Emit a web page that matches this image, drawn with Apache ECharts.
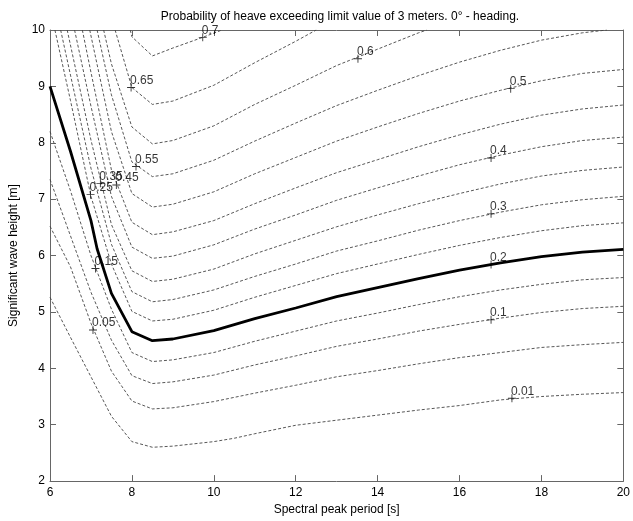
<!DOCTYPE html>
<html>
<head>
<meta charset="utf-8">
<script src="https://cdn.jsdelivr.net/npm/echarts@6/dist/echarts.min.js"></script>
<style>
  html, body { margin: 0; background: #fff; }
  #chart { width: 633px; height: 521px; }
</style>
</head>
<body>
<div id="chart"></div>
<script>
// contour lines, [Tp, Hs] pairs
const c001 = [[6,5.26],[6.5,4.55],[7,3.85],[7.5,3.15],[8,2.70],[8.5,2.60],[9,2.62],[10,2.70],[10.5,2.76],[11,2.84],[12,2.99],[13,3.08],[14,3.17],[15,3.26],[16,3.34],[17,3.44],[18,3.50],[19,3.54],[20,3.57]];
const c005 = [[6,6.52],[6.5,5.80],[7,4.80],[7.5,3.95],[8,3.42],[8.5,3.28],[9,3.30],[10,3.41],[11,3.56],[12,3.70],[13,3.85],[14,3.96],[15,4.08],[16,4.19],[17,4.28],[18,4.37],[19,4.42],[20,4.46]];
const c010 = [[6,7.35],[6.5,6.35],[7,5.35],[7.5,4.50],[8,3.87],[8.5,3.73],[9,3.76],[10,3.88],[11,4.06],[12,4.22],[13,4.39],[14,4.52],[15,4.66],[16,4.78],[17,4.89],[18,4.99],[19,5.06],[20,5.10]];
const c015 = [[6,8.2],[6.5,7.15],[7,6.0],[7.5,5.05],[8,4.28],[8.5,4.12],[9,4.15],[10,4.28],[11,4.48],[12,4.66],[13,4.84],[14,4.98],[15,5.13],[16,5.27],[17,5.39],[18,5.49],[19,5.57],[20,5.61]];
const c020 = [[6,9.0],[6.5,7.85],[7,6.62],[7.15,6.12],[7.5,5.33],[8,4.65],[8.5,4.49],[9,4.52],[10,4.67],[11,4.88],[12,5.07],[13,5.27],[14,5.43],[15,5.59],[16,5.74],[17,5.87],[18,5.98],[19,6.06],[20,6.11]];
const c025 = [[6.12,10],[6.5,8.75],[7,7.05],[7.5,5.85],[8,5.01],[8.5,4.84],[9,4.87],[10,5.03],[11,5.26],[12,5.47],[13,5.68],[14,5.85],[15,6.02],[16,6.18],[17,6.32],[18,6.44],[19,6.53],[20,6.58]];
const c030 = [[6.26,10],[6.5,9.2],[7,7.55],[7.5,6.2],[8,5.36],[8.5,5.18],[9,5.22],[10,5.39],[11,5.63],[12,5.85],[13,6.08],[14,6.26],[15,6.45],[16,6.62],[17,6.77],[18,6.90],[19,6.99],[20,7.05]];
const c035 = [[6.42,10],[7,8.05],[7.5,6.55],[8,5.73],[8.5,5.54],[9,5.58],[10,5.76],[11,6.03],[12,6.27],[13,6.51],[14,6.72],[15,6.92],[16,7.10],[17,7.27],[18,7.41],[19,7.51],[20,7.57]];
const c040 = [[6.60,10],[7,8.65],[7.5,7.05],[8,6.15],[8.5,5.95],[9,5.99],[10,6.19],[11,6.47],[12,6.72],[13,6.98],[14,7.20],[15,7.41],[16,7.61],[17,7.78],[18,7.93],[19,8.04],[20,8.10]];
const c045 = [[6.79,10],[7,9.25],[7.5,7.52],[8,6.59],[8.5,6.37],[9,6.42],[10,6.62],[11,6.92],[12,7.20],[13,7.47],[14,7.70],[15,7.93],[16,8.14],[17,8.33],[18,8.49],[19,8.60],[20,8.67]];
const c050 = [[6.97,10],[7.5,8.2],[8,7.10],[8.5,6.86],[9,6.91],[10,7.13],[11,7.45],[12,7.74],[13,8.03],[14,8.28],[15,8.52],[16,8.74],[17,8.93],[18,9.10],[19,9.23],[20,9.30]];
const c055 = [[7.15,10],[7.5,8.85],[8,7.66],[8.5,7.40],[9,7.45],[10,7.69],[11,8.03],[12,8.35],[13,8.66],[14,8.93],[15,9.19],[16,9.43],[17,9.64],[18,9.82],[19,9.95],[19.6,10]];
const c060 = [[7.31,10],[7.5,9.40],[8,8.28],[8.5,7.98],[9,8.04],[10,8.30],[11,8.68],[12,9.02],[13,9.37],[14,9.66],[15,9.95],[15.2,10]];
const c065 = [[7.59,10],[8,8.98],[8.5,8.68],[9,8.74],[10,9.02],[11,9.42],[12,9.80],[12.5,10]];
const c070 = [[7.96,10],[8,9.88],[8.5,9.54],[9,9.68],[9.73,9.87],[10.2,10]];

const contours = [c001, c005, c010, c015, c020, c025, c030, c035, c040, c045, c050, c055, c060, c065, c070];
const boldIndex = 4; // 0.2 line drawn solid

// clabel marks: [Tp, Hs, text]
const labels = [
  [17.28, 3.47, '0.01'], [7.05, 4.68, '0.05'], [16.77, 4.86, '0.1'],
  [7.11, 5.77, '0.15'], [16.77, 5.84, '0.2'], [6.99, 7.08, '0.25'],
  [16.77, 6.74, '0.3'], [7.23, 7.28, '0.35'], [16.77, 7.73, '0.4'],
  [7.62, 7.25, '0.45'], [17.25, 8.96, '0.5'], [8.10, 7.58, '0.55'],
  [13.52, 9.49, '0.6'], [7.98, 8.98, '0.65'], [9.73, 9.87, '0.7']
];

const xRange = [6, 20], xStep = 2;
const yRange = [2, 10], yStep = 1;

const font = 'Liberation Sans, Arial, Helvetica, sans-serif';
const axisColor = '#666';

const chart = echarts.init(document.getElementById('chart'));

const baseAxis = {
  type: 'value',
  axisLine: { show: true, onZero: false, lineStyle: { color: axisColor, width: 1 } },
  axisTick: { show: true, inside: true, length: 6, lineStyle: { color: axisColor } },
  splitLine: { show: false },
  axisLabel: { color: '#000', fontSize: 12, fontFamily: font }
};

const series = contours.map((pts, i) => ({
  type: 'line',
  data: pts,
  showSymbol: false,
  symbol: 'none',
  clip: true,
  silent: true,
  lineStyle: i === boldIndex
    ? { color: '#000', width: 2.8, type: 'solid' }
    : { color: '#444', width: 0.9, type: [3, 2] },
  z: i === boldIndex ? 3 : 2
}));

series.push({
  type: 'scatter',
  data: labels,
  symbol: 'path://M0,4h9v1H0z M4,0h1v9H4z',
  symbolSize: 8,
  itemStyle: { color: '#000' },
  silent: true,
  z: 4,
  label: {
    show: true,
    position: 'right',
    distance: 0,
    offset: [-5, -7],
    formatter: p => p.value[2],
    color: '#000',
    fontSize: 12,
    fontFamily: font
  }
});

const option = {
  animation: false,
  backgroundColor: '#fff',
  title: {
    text: 'Probability of heave exceeding limit value of 3 meters. 0° - heading.',
    left: 335,
    textAlign: 'center',
    top: 6,
    textStyle: { fontSize: 12, fontWeight: 'normal', color: '#000', fontFamily: font }
  },
  grid: { left: 46, right: 9, top: 30, bottom: 35 },
  xAxis: [
    Object.assign({}, baseAxis, {
      position: 'bottom',
      min: xRange[0], max: xRange[1], interval: xStep,
      name: 'Spectral peak period [s]',
      nameLocation: 'middle',
      nameGap: 22,
      nameTextStyle: { color: '#000', fontSize: 12, fontFamily: font },
      axisLabel: Object.assign({}, baseAxis.axisLabel, { margin: 6 })
    }),
    Object.assign({}, baseAxis, {
      position: 'top',
      min: xRange[0], max: xRange[1], interval: xStep,
      axisLabel: { show: false }
    })
  ],
  yAxis: [
    Object.assign({}, baseAxis, {
      position: 'left',
      min: yRange[0], max: yRange[1], interval: yStep,
      name: 'Significant wave height [m]',
      nameLocation: 'middle',
      nameGap: 30,
      nameTextStyle: { color: '#000', fontSize: 12, fontFamily: font },
      axisLabel: Object.assign({}, baseAxis.axisLabel, { margin: 5 })
    }),
    Object.assign({}, baseAxis, {
      position: 'right',
      min: yRange[0], max: yRange[1], interval: yStep,
      axisLabel: { show: false }
    })
  ],
  series: series
};

chart.setOption(option);
</script>
</body>
</html>
